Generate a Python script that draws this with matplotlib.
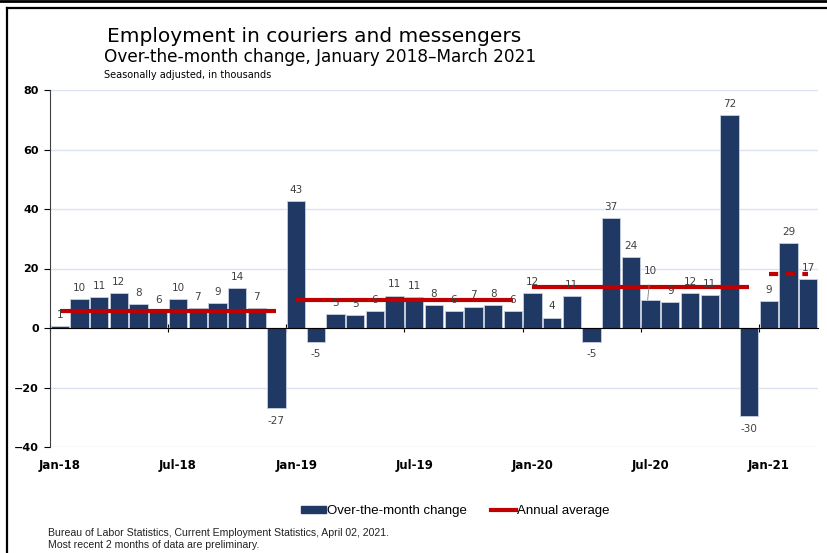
import matplotlib.pyplot as plt
import numpy as np
from matplotlib.patches import Rectangle
from matplotlib.lines import Line2D

# monthly over-the-month change, Jan 2018 - Mar 2021 (thousands)
months = ['Jan-18', 'Feb-18', 'Mar-18', 'Apr-18', 'May-18', 'Jun-18', 'Jul-18', 'Aug-18', 'Sep-18', 'Oct-18', 'Nov-18', 'Dec-18',
          'Jan-19', 'Feb-19', 'Mar-19', 'Apr-19', 'May-19', 'Jun-19', 'Jul-19', 'Aug-19', 'Sep-19', 'Oct-19', 'Nov-19', 'Dec-19',
          'Jan-20', 'Feb-20', 'Mar-20', 'Apr-20', 'May-20', 'Jun-20', 'Jul-20', 'Aug-20', 'Sep-20', 'Oct-20', 'Nov-20', 'Dec-20',
          'Jan-21', 'Feb-21', 'Mar-21']
change = [0.6, 9.8, 10.5, 11.8, 8.0, 5.8, 9.8, 6.8, 8.5, 13.5, 6.8, -27.0,
          42.6, -4.7, 4.7, 4.5, 5.8, 10.9, 10.5, 7.8, 5.8, 7.2, 7.8, 5.6,
          11.7, 3.5, 10.6, -4.6, 37.1, 23.9, 9.5, 8.6, 11.8, 11.2, 71.7, -29.6,
          9.1, 28.6, 16.6]
labels = ['1', '10', '11', '12', '8', '6', '10', '7', '9', '14', '7', '-27',
          '43', '-5', '5', '5', '6', '11', '11', '8', '6', '7', '8', '6',
          '12', '4', '11', '-5', '37', '24', '10', '9', '12', '11', '72', '-30',
          '9', '29', '17']
years = ['2018', '2019', '2020', '2021']
annual_avg = [5.7, 9.3, 13.8, 18.2]

navy = '#203864'
red = '#C00000'

fig = plt.figure(figsize=(8.27, 5.53), dpi=100)
ax = fig.add_axes([50 / 827, 1 - 447 / 553, 768 / 827, 357 / 553])

x = np.arange(len(change))
ax.bar(x, change, width=0.93, color=navy, edgecolor='#c8d0e0', linewidth=0.6, zorder=2)

# annual average lines
for yr, avg in zip(years, annual_avg):
    idx = [k for k, m in enumerate(months) if m.endswith(yr[2:])]
    ls = (0, (2.2, 1.8)) if yr == '2021' else '-'
    ax.plot([idx[0], idx[-1]], [avg, avg], color=red, lw=3, ls=ls, zorder=3,
            solid_capstyle='butt', dash_capstyle='butt')

# data labels
for xi, v, lab in zip(x, change, labels):
    if months[xi] == 'Jul-20':
        ax.annotate(lab, xy=(xi - 0.15, v), xytext=(xi, v + 9.5), ha='center', va='center',
                    fontsize=7.5, color='#404040', zorder=4,
                    arrowprops=dict(arrowstyle='-', color='#7f7f7f', lw=0.6, shrinkA=4, shrinkB=0))
        continue
    off = 8 if v >= 0 else -9
    ax.annotate(lab, xy=(xi, v), xytext=(0, off), textcoords='offset points',
                ha='center', va='center', fontsize=7.5, color='#404040', zorder=4)

ax.set_xlim(-0.5, len(change) - 0.5)
ax.set_ylim(-40, 80)
ax.set_yticks(np.arange(-40, 81, 20))
ax.yaxis.grid(True, color='#dbe3f1', lw=1)
ax.set_axisbelow(True)
for t in ax.get_yticklabels():
    t.set_fontweight('bold')
ax.tick_params(axis='y', length=4, width=0.8, pad=4, labelsize=8)

ax.spines['top'].set_visible(False)
ax.spines['right'].set_visible(False)
ax.spines['bottom'].set_position(('data', 0))
ax.spines['bottom'].set_zorder(3)
ax.spines['left'].set_color('#404040')
ax.set_xticks(np.arange(-0.5, len(change), 6))
ax.set_xticklabels([])
ax.tick_params(axis='x', direction='inout', length=6, width=0.8)

sec = ax.secondary_xaxis(0)
sec.set_xticks(np.arange(0, len(change), 6))
sec.set_xticklabels(months[::6], fontweight='bold', fontsize=8.5)
sec.tick_params(length=0, pad=9)
sec.spines['bottom'].set_visible(False)

# titles
fig.text(107 / 827, 1 - 37 / 553, 'Employment in couriers and messengers', fontsize=14.5,
         va='center', ha='left', color='black')
fig.text(104 / 827, 1 - 57 / 553, 'Over-the-month change, January 2018\u2013March 2021', fontsize=12.2,
         va='center', ha='left', color='black')
fig.text(104 / 827, 1 - 75 / 553, 'Seasonally adjusted, in thousands', fontsize=7,
         va='center', ha='left', color='black')

# legend
handles = [Rectangle((0, 0), 1, 1, color=navy),
           Line2D([0], [0], color=red, lw=3)]
fig.legend(handles, ['Over-the-month change', 'Annual average'], loc='center',
           bbox_to_anchor=(455 / 827, 1 - 511 / 553), ncol=2, frameon=False,
           prop={'family': 'Liberation Sans', 'size': 9.5},
           handlelength=1.9, handleheight=0.4, handletextpad=0.1, columnspacing=1.8)

# footer
fig.text(48 / 827, 1 - 533 / 553, 'Bureau of Labor Statistics, Current Employment Statistics, April 02, 2021.',
         fontsize=7.6, family='Liberation Sans', va='center', ha='left', color='#222222')
fig.text(48 / 827, 1 - 545 / 553, 'Most recent 2 months of data are preliminary.',
         fontsize=7.6, family='Liberation Sans', va='center', ha='left', color='#222222')

# frame lines
fig.add_artist(Line2D([0, 1], [1 - 1 / 553, 1 - 1 / 553], color='black', lw=2, transform=fig.transFigure))
fig.add_artist(Line2D([6.5 / 827, 1], [1 - 8 / 553, 1 - 8 / 553], color='black', lw=1.6, transform=fig.transFigure))
fig.add_artist(Line2D([6.5 / 827, 6.5 / 827], [0, 1 - 8 / 553], color='black', lw=1.6, transform=fig.transFigure))

fig.savefig('out.png', dpi=100)
